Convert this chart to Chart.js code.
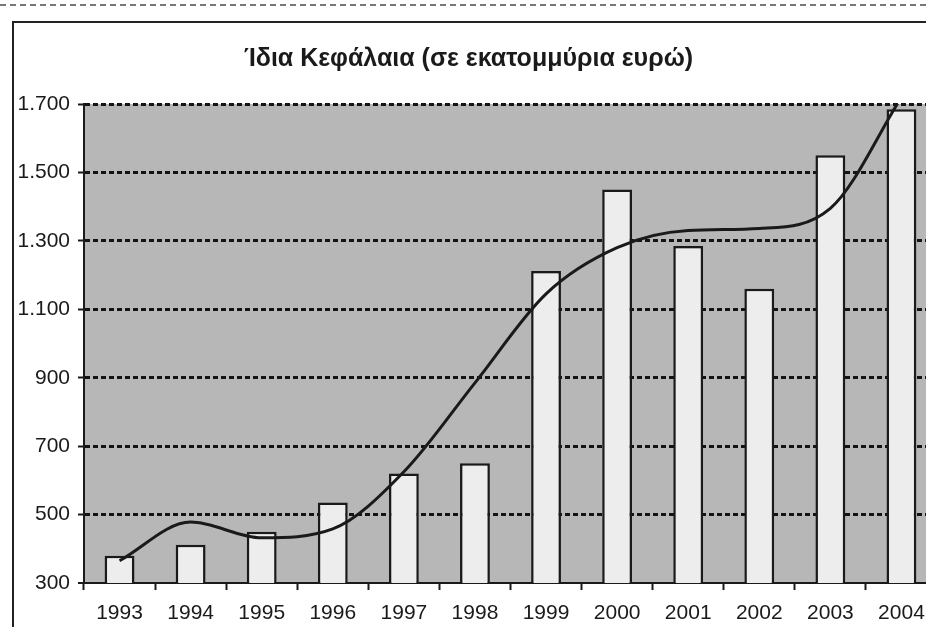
<!DOCTYPE html>
<html>
<head>
<meta charset="utf-8">
<script src="https://cdn.jsdelivr.net/npm/chart.js@4.4.1/dist/chart.umd.min.js"></script>
<style>
    html, body { margin: 0; padding: 0; overflow: hidden; background: #fff; width: 926px; height: 627px; }
    #frame { position: absolute; left: 12px; top: 21px; width: 1000px; height: 700px; border-left: 2px solid #222; border-top: 2px solid #222; }
    #scanline { position: absolute; left: 0; top: 4px; width: 926px; height: 0; border-top: 2px dashed #777; }
    #chart { position: absolute; left: 0; top: 0; }
</style>
</head>
<body>
<div id="scanline"></div>
<div id="frame"></div>
<canvas id="chart" width="960" height="627"></canvas>
<script>
// Ίδια Κεφάλαια, εκατ. ευρώ
const years = ['1993', '1994', '1995', '1996', '1997', '1998', '1999', '2000', '2001', '2002', '2003', '2004'];
const equity = [380, 412, 450, 535, 620, 650, 1212, 1450, 1285, 1160, 1550, 1685];
// γραμμή τάσης (διαβασμένη από το γράφημα)
const trend = [365, 478, 432, 458, 625, 885, 1145, 1280, 1330, 1336, 1395, 1720];

const titleText = 'Ίδια Κεφάλαια (σε εκατομμύρια ευρώ)';
const tickFont = { family: '"Liberation Sans", Arial, sans-serif', size: 21 };
const ink = '#1a1a1a';

// γκρι φόντο στην περιοχή σχεδίασης
const plotBg = {
    id: 'plotBg',
    beforeDraw(chart) {
        const { ctx, chartArea: a } = chart;
        ctx.save();
        ctx.fillStyle = '#b7b7b7';
        ctx.fillRect(a.left, a.top, a.right - a.left, a.bottom - a.top);
        ctx.restore();
    }
};

const dots = v => String(v).replace(/\B(?=(\d{3})+(?!\d))/g, '.');

new Chart(document.getElementById('chart'), {
    type: 'bar',
    data: {
        labels: years,
        datasets: [
            {
                type: 'line',
                data: trend,
                borderColor: ink,
                borderWidth: 3,
                pointRadius: 0,
                fill: false,
                cubicInterpolationMode: 'monotone',
                order: 0
            },
            {
                data: equity,
                backgroundColor: '#ededed',
                borderColor: ink,
                borderWidth: 2.5,
                barPercentage: 0.42,
                categoryPercentage: 1,
                order: 1
            }
        ]
    },
    options: {
        responsive: false,
        devicePixelRatio: 1,
        animation: false,
        layout: { padding: { left: 0, right: 23, top: 0, bottom: 0 } },
        plugins: {
            legend: { display: false },
            tooltip: { enabled: false },
            title: {
                display: true,
                text: titleText,
                color: ink,
                font: { family: '"Liberation Sans Narrow", "Liberation Sans", Arial, sans-serif', size: 25, weight: 'bold' },
                padding: { top: 44, bottom: 30 }
            }
        },
        scales: {
            x: {
                grid: { display: true, drawOnChartArea: false, drawTicks: true, tickLength: 7, tickWidth: 2, tickColor: ink, offset: true },
                border: { display: true, color: ink, width: 2 },
                ticks: { color: ink, font: tickFont, padding: 11, maxRotation: 0 },
                afterFit: s => { s.height = 44; }
            },
            y: {
                min: 300,
                max: 1700,
                grid: {
                    color: '#141414',
                    lineWidth: c => (c.tick && c.tick.value === 300 ? 0 : 3),
                    tickLength: 6,
                    tickWidth: 2,
                    tickColor: ink
                },
                border: { display: true, color: ink, width: 2, dash: [5, 3] },
                ticks: { stepSize: 200, color: ink, font: tickFont, padding: 8, callback: v => dots(v) },
                afterFit: s => { s.width = 84; }
            }
        }
    },
    plugins: [plotBg]
});
</script>
</body>
</html>
